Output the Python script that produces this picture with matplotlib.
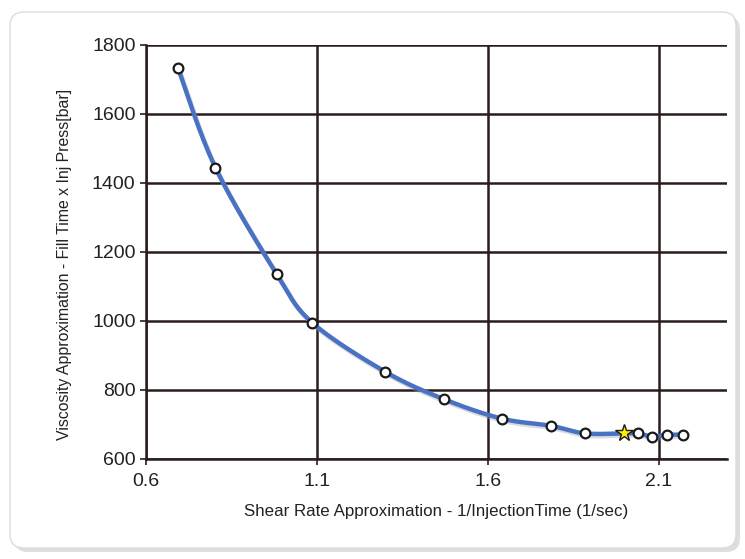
import matplotlib.pyplot as plt
import numpy as np
from matplotlib.patches import FancyBboxPatch

plt.rcParams['font.family'] = ['Liberation Sans', 'DejaVu Sans']

# data
shear_rate = [0.693, 0.803, 0.982, 1.086, 1.299, 1.472, 1.640, 1.784, 1.884,
              2.039, 2.080, 2.125, 2.171]
viscosity = [1734, 1444, 1136, 995, 853, 773, 717, 696, 674,
             674, 665, 670, 670]
star_x = [1.998]
star_y = [674]

x_ticks = [0.6, 1.1, 1.6, 2.1]
y_ticks = [600, 800, 1000, 1200, 1400, 1600, 1800]


def smooth(xs, ys, n=20):
    # Catmull-Rom style smoothing for the drawn line
    pts = np.column_stack([xs, ys]).astype(float)
    pts = np.vstack([pts[0], pts, pts[-1]])
    out = []
    t = np.linspace(0, 1, n, endpoint=False)[:, None]
    for i in range(1, len(pts) - 2):
        p0, p1, p2, p3 = pts[i - 1], pts[i], pts[i + 1], pts[i + 2]
        seg = 0.5 * ((2 * p1) + (-p0 + p2) * t + (2 * p0 - 5 * p1 + 4 * p2 - p3) * t ** 2
                     + (-p0 + 3 * p1 - 3 * p2 + p3) * t ** 3)
        out.append(seg)
    out.append(pts[-2][None, :])
    out = np.vstack(out)
    return out[:, 0], out[:, 1]


all_x = sorted(shear_rate + star_x)
all_y = [dict(zip(shear_rate + star_x, viscosity + star_y))[v] for v in all_x]

fig = plt.figure(figsize=(7.45, 5.59), dpi=100)
fig.patch.set_facecolor('white')

# background panel with soft gradient
bg = fig.add_axes([0, 0, 1, 1], zorder=-10)
bg.set_xlim(0, 745)
bg.set_ylim(559, 0)
bg.axis('off')
shadow = FancyBboxPatch((14, 16), 726, 536, boxstyle='round,pad=0,rounding_size=14',
                        facecolor='#c8c8c8', edgecolor='none', alpha=0.6)
bg.add_patch(shadow)
panel = FancyBboxPatch((10, 12), 726, 536, boxstyle='round,pad=0,rounding_size=14',
                       facecolor='white', edgecolor='#dcdcdc', lw=1)
bg.add_patch(panel)
grad = np.linspace(0, 1, 256)
grad = np.clip(grad * 5, 0, 1)[:, None]
img = bg.imshow(grad, extent=[10, 736, 548, 12], cmap='Greys_r', vmin=-3.5, vmax=1,
                aspect='auto', origin='upper')
img.set_clip_path(panel)

ax = fig.add_axes([0.196, 0.179, 0.780, 0.741])
ax.set_facecolor('white')

sx, sy = smooth(all_x, all_y)
ax.plot(sx + 0.004, sy - 6, color='#9a9a9a', lw=3.5, alpha=0.35, zorder=2,
        solid_capstyle='round')
ax.plot(sx, sy, color='#4a72c4', lw=3.2, zorder=3, solid_capstyle='round')
ax.plot(shear_rate, viscosity, 'o', ms=7, mfc='white', mec='#1a1a1a', mew=1.6, zorder=4)
ax.plot(star_x, star_y, '*', ms=13, mfc='#ffee00', mec='#1a1a1a', mew=1.0, zorder=5)

ax.set_xlim(0.6, 2.3)
ax.set_ylim(600, 1800)
ax.set_xticks(x_ticks)
ax.set_xticklabels([f'{v:.1f}' for v in x_ticks])
ax.set_yticks(y_ticks)
ax.grid(True, color='#2a1c1c', lw=1.8)
ax.set_axisbelow(True)
for s in ['top', 'right']:
    ax.spines[s].set_visible(False)
for s in ['left', 'bottom']:
    ax.spines[s].set_color('#2a1c1c')
    ax.spines[s].set_linewidth(1.8)
ax.tick_params(axis='both', colors='#2a1c1c', length=4, width=1.2,
               labelsize=14, labelcolor='#222222')
ax.tick_params(axis='x', pad=6)
ax.set_xlabel('Shear Rate Approximation - 1/InjectionTime (1/sec)', fontsize=12.2,
              color='#222222', labelpad=10)
ax.set_ylabel('Viscosity Approximation - Fill Time x Inj Press[bar]', fontsize=11.4,
              color='#222222')
ax.yaxis.set_label_coords(-0.128, 0.47)

fig.savefig('out.png', dpi=100, facecolor=fig.get_facecolor())
